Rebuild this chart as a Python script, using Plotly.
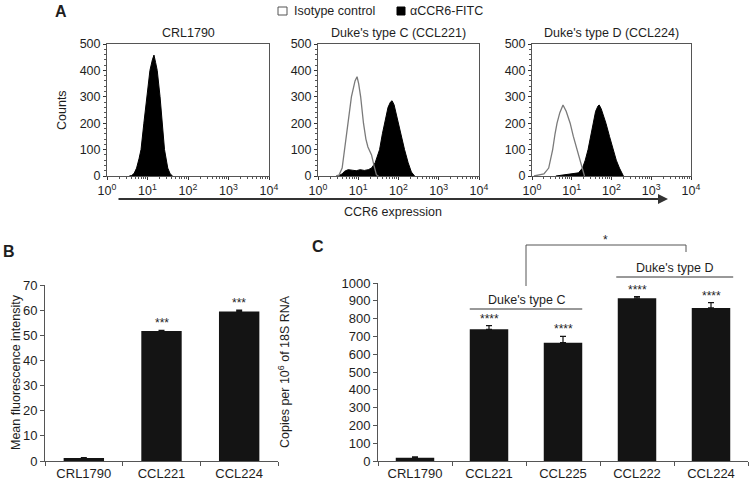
import plotly.graph_objects as go

W, H = 754, 482

# ---------------- Data ----------------
# Panel A histograms (x = log10 fluorescence, y = counts)
crl_ccr6_log = [0.55, 0.61, 0.67, 0.73, 0.79, 0.84, 0.91, 0.98, 1.06, 1.12, 1.16, 1.2, 1.24, 1.31, 1.36, 1.42, 1.5, 1.56, 1.62]
crl_ccr6_cnt = [0, 2, 10, 30, 65, 100, 200, 300, 400, 440, 458, 430, 400, 300, 200, 100, 30, 8, 0]

c221_iso_log = [0.45, 0.52, 0.6, 0.66, 0.73, 0.83, 0.92, 0.97, 1.01, 1.06, 1.13, 1.19, 1.24, 1.29, 1.33, 1.39, 1.45, 1.5]
c221_iso_cnt = [0, 3, 30, 100, 200, 300, 360, 376, 350, 300, 200, 140, 110, 95, 80, 40, 5, 0]
c221_ccr6_log = [0.5, 0.6, 0.66, 0.75, 0.85, 0.95, 1.05, 1.15, 1.25, 1.33, 1.42, 1.53, 1.6, 1.66, 1.74, 1.8, 1.84, 1.89, 1.94, 1.99, 2.07, 2.15, 2.24, 2.32, 2.4]
c221_ccr6_cnt = [0, 8, 18, 24, 22, 20, 24, 21, 24, 30, 50, 100, 160, 200, 260, 280, 285, 270, 235, 200, 150, 100, 50, 15, 0]

c224_iso_log = [0.05, 0.17, 0.3, 0.42, 0.52, 0.58, 0.63, 0.7, 0.78, 0.86, 0.96, 1.04, 1.13, 1.2, 1.26, 1.32]
c224_iso_cnt = [0, 5, 8, 30, 100, 160, 200, 240, 269, 245, 200, 150, 100, 60, 30, 0]
c224_ccr6_log = [0.6, 0.84, 1.0, 1.17, 1.27, 1.34, 1.41, 1.47, 1.53, 1.6, 1.66, 1.69, 1.74, 1.8, 1.86, 1.95, 2.04, 2.12, 2.2, 2.3]
c224_ccr6_cnt = [0, 5, 8, 12, 30, 60, 100, 150, 200, 245, 265, 269, 255, 230, 200, 150, 100, 60, 30, 0]

hist_ticks = [0, 1, 2, 3, 4]
hist_title = ["CRL1790", "Duke's type C (CCL221)", "Duke's type D (CCL224)"]

# Panel B
b_cats = ["CRL1790", "CCL221", "CCL224"]
b_vals = [1.2, 51.7, 59.5]
b_err = [0.2, 0.3, 0.5]
b_sig = ["", "***", "***"]

# Panel C
c_cats = ["CRL1790", "CCL221", "CCL225", "CCL222", "CCL224"]
c_vals = [18, 740, 665, 915, 860]
c_err = [5, 20, 35, 8, 30]
c_sig = ["", "****", "****", "****", "****"]

FONT = "Liberation Sans, Arial, sans-serif"
TXT = "#1e1e1e"


def px(x):
    return x / W


def py(y):
    return 1 - y / H


fig = go.Figure()

# ---------------- Panel A ----------------
hist_dom = [(107, 269), (318, 479), (532, 691)]
hist_data = [
    (None, None, crl_ccr6_log, crl_ccr6_cnt),
    (c221_iso_log, c221_iso_cnt, c221_ccr6_log, c221_ccr6_cnt),
    (c224_iso_log, c224_iso_cnt, c224_ccr6_log, c224_ccr6_cnt),
]
minor_vals = [m * 10 ** k for k in range(4) for m in range(2, 10)]
for i, (dom, (il, ic, cl, cc)) in enumerate(zip(hist_dom, hist_data)):
    n = i + 1
    xa = "x" if n == 1 else f"x{n}"
    ya = "y" if n == 1 else f"y{n}"
    fig.add_trace(go.Scatter(x=[10 ** v for v in cl], y=cc, mode="lines", fill="tozeroy",
                             fillcolor="black", line=dict(color="black", width=1),
                             xaxis=xa, yaxis=ya, showlegend=False, hoverinfo="skip"))
    if il is not None:
        fig.add_trace(go.Scatter(x=[10 ** v for v in il], y=ic, mode="lines",
                                 line=dict(color="#7a7a7a", width=1.3),
                                 xaxis=xa, yaxis=ya, showlegend=False, hoverinfo="skip"))
    xk = "xaxis" if n == 1 else f"xaxis{n}"
    yk = "yaxis" if n == 1 else f"yaxis{n}"
    fig.layout[xk] = dict(
        domain=[px(dom[0]), px(dom[1])], type="log", range=[0, 4], anchor=ya, automargin=False,
        tickmode="array", tickvals=[10 ** t for t in hist_ticks],
        ticktext=[f"10<sup>{t}</sup>" for t in hist_ticks],
        ticks="outside", ticklen=3, tickcolor="#333", showline=True, linecolor="#555",
        linewidth=1, mirror=True, showgrid=False, zeroline=False,
        tickfont=dict(family=FONT, size=12.5, color=TXT),
        minor=dict(tickmode="array", tickvals=minor_vals, ticks="outside", ticklen=2,
                   tickcolor="#555", showgrid=False),
    )
    fig.layout[yk] = dict(
        domain=[py(176), py(44)], range=[0, 500], anchor=xa, dtick=100, automargin=False,
        ticks="outside", ticklen=3, tickcolor="#333", showline=True, linecolor="#555",
        linewidth=1, mirror=True, showgrid=False, zeroline=False,
        tickfont=dict(family=FONT, size=12.5, color=TXT),
        minor=dict(dtick=20, ticks="outside", ticklen=2, tickcolor="#555", showgrid=False),
    )

# ---------------- Panel B ----------------
fig.add_trace(go.Bar(x=b_cats, y=b_vals, width=0.52, marker=dict(color="#141414", line=dict(width=0)),
                     error_y=dict(type="data", array=b_err, symmetric=False, arrayminus=[0] * len(b_err),
                                  color="#141414", thickness=1.2, width=3),
                     xaxis="x4", yaxis="y4", showlegend=False, hoverinfo="skip"))
fig.layout["xaxis4"] = dict(domain=[px(45), px(278)], anchor="y4", type="category", automargin=False,
                            range=[-0.5, len(b_cats) - 0.5], tickson="boundaries",
                            ticks="outside", ticklen=4, tickcolor="#555", showline=True,
                            linecolor="#555", linewidth=1, showgrid=False,
                            tickfont=dict(family=FONT, size=13, color=TXT))
fig.layout["yaxis4"] = dict(domain=[py(461), py(285)], anchor="x4", range=[0, 70], dtick=10,
                            automargin=False,
                            ticks="outside", ticklen=4, tickcolor="#555", showline=True,
                            linecolor="#555", linewidth=1, showgrid=False, zeroline=False,
                            tickfont=dict(family=FONT, size=13, color=TXT))

# ---------------- Panel C ----------------
fig.add_trace(go.Bar(x=c_cats, y=c_vals, width=0.52, marker=dict(color="#141414", line=dict(width=0)),
                     error_y=dict(type="data", array=c_err, symmetric=False, arrayminus=[0] * len(c_err),
                                  color="#141414", thickness=1.2, width=3),
                     xaxis="x5", yaxis="y5", showlegend=False, hoverinfo="skip"))
fig.layout["xaxis5"] = dict(domain=[px(378), px(748)], anchor="y5", type="category", automargin=False,
                            range=[-0.5, len(c_cats) - 0.5], tickson="boundaries",
                            ticks="outside", ticklen=4, tickcolor="#555", showline=True,
                            linecolor="#555", linewidth=1, showgrid=False,
                            tickfont=dict(family=FONT, size=13, color=TXT))
fig.layout["yaxis5"] = dict(domain=[py(461), py(283)], anchor="x5", range=[0, 1000], dtick=100,
                            automargin=False,
                            ticks="outside", ticklen=4, tickcolor="#555", showline=True,
                            linecolor="#555", linewidth=1, showgrid=False, zeroline=False,
                            tickfont=dict(family=FONT, size=13, color=TXT))

ann = []
shapes = []


def text(x, y, s, size=12.5, bold=False, angle=0, xanchor="center"):
    ann.append(dict(x=px(x), y=py(y), xref="paper", yref="paper", text=s, showarrow=False,
                    textangle=angle, xanchor=xanchor, yanchor="middle",
                    font=dict(family=FONT, size=size, color=TXT, weight="bold" if bold else "normal")))


# Panel letters
text(61, 11, "A", 16, True)
text(9, 251, "B", 16, True)
text(318, 247, "C", 16, True)

# Histogram titles
for (d0, d1), t in zip(hist_dom, hist_title):
    text((d0 + d1) / 2, 33, t, 12.5)

# Legend
shapes.append(dict(type="rect", xref="paper", yref="paper", x0=px(278), x1=px(287), y0=py(15), y1=py(7),
                   line=dict(color="#555", width=1), fillcolor="white"))
text(292, 11, "Isotype control", 12.5, xanchor="left")
shapes.append(dict(type="rect", xref="paper", yref="paper", x0=px(397), x1=px(405), y0=py(15), y1=py(7),
                   line=dict(color="black", width=1), fillcolor="black"))
text(408, 11, "αCCR6-FITC", 12.5, xanchor="left")

# Axis titles
text(62, 110, "Counts", 12.5, angle=-90)
text(393, 212, "CCR6 expression", 12.5)
text(16, 372, "Mean fluorescence intensity", 12.5, angle=-90)
text(284, 372, "Copies per 10<sup>6</sup> of 18S RNA", 12.5, angle=-90)

# Arrow under panel A
ann.append(dict(x=px(668), y=py(199), xref="paper", yref="paper", ax=117 - 668, ay=0,
                axref="pixel", ayref="pixel", text="", showarrow=True, arrowhead=2,
                arrowsize=1, arrowwidth=2, arrowcolor="#333"))

# Significance stars on bars
for c, v, e, s in zip(b_cats, b_vals, b_err, b_sig):
    if s:
        ann.append(dict(x=c, y=v + e, xref="x4", yref="y4", text=s, showarrow=False,
                        xanchor="center", yanchor="bottom", yshift=-2,
                        font=dict(family=FONT, size=12, color=TXT)))
for c, v, e, s in zip(c_cats, c_vals, c_err, c_sig):
    if s:
        ann.append(dict(x=c, y=v + e, xref="x5", yref="y5", text=s, showarrow=False,
                        xanchor="center", yanchor="bottom", yshift=-2,
                        font=dict(family=FONT, size=12, color=TXT)))

# Group brackets in panel C
shapes.append(dict(type="line", xref="x5", yref="paper", x0=0.74, x1=2.26, y0=py(309), y1=py(309),
                   line=dict(color="#333", width=1)))
ann.append(dict(x=1.5, y=py(300), xref="x5", yref="paper", text="Duke's type C", showarrow=False,
                xanchor="center", yanchor="middle", font=dict(family=FONT, size=12.5, color=TXT)))
shapes.append(dict(type="line", xref="x5", yref="paper", x0=2.72, x1=4.3, y0=py(277), y1=py(277),
                   line=dict(color="#333", width=1)))
ann.append(dict(x=3.5, y=py(268), xref="x5", yref="paper", text="Duke's type D", showarrow=False,
                xanchor="center", yanchor="middle", font=dict(family=FONT, size=12.5, color=TXT)))
# comparison bracket
shapes.append(dict(type="path", xref="paper", yref="paper",
                   path=f"M {px(526)} {py(286)} L {px(526)} {py(245)} L {px(686)} {py(245)} L {px(686)} {py(252)}",
                   line=dict(color="#555", width=1)))
text(605, 240, "*", 12)

fig.update_layout(width=W, height=H, margin=dict(l=0, r=0, t=0, b=0, autoexpand=False),
                  paper_bgcolor="white", plot_bgcolor="white",
                  annotations=ann, shapes=shapes, bargap=0.48,
                  font=dict(family=FONT, color=TXT))

fig.write_html("out.html", config={"displayModeBar": False},
               post_script="document.body.style.margin='0px';document.body.style.overflow='hidden';")
